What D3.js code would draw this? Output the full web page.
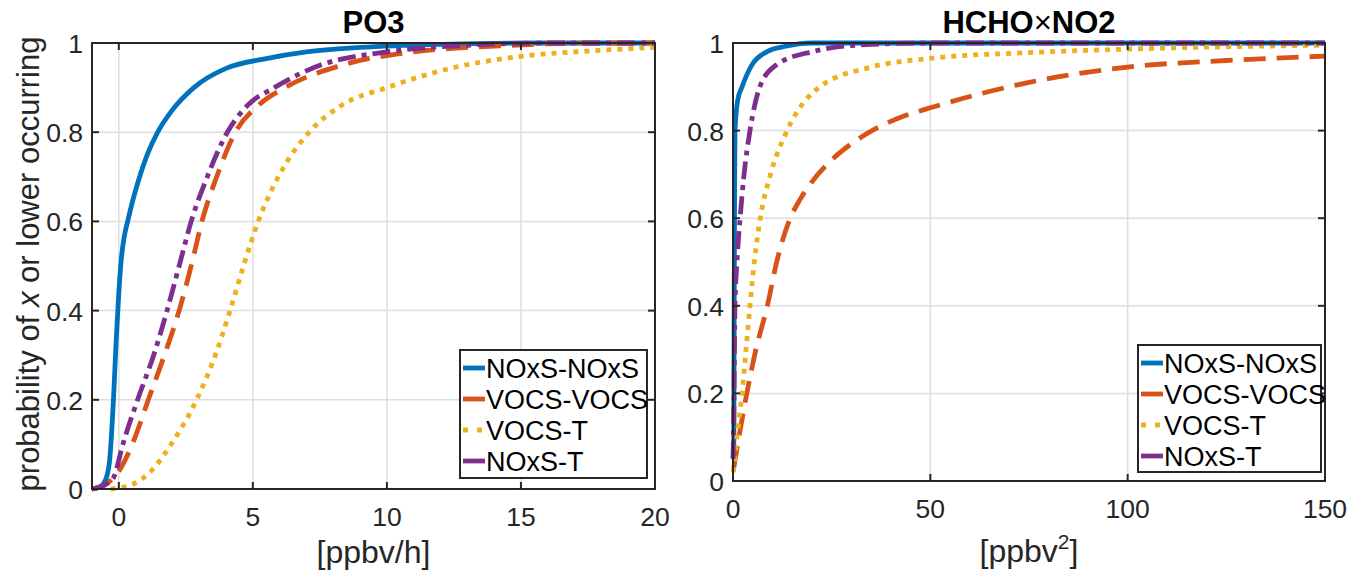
<!DOCTYPE html>
<html><head><meta charset="utf-8">
<script src="https://cdn.jsdelivr.net/npm/d3@7"></script>
<style>body{margin:0;background:#fff;} svg{font-family:"Liberation Sans",Arial,Helvetica,sans-serif;}</style>
</head><body>
<svg id="c" width="1364" height="577"></svg>
<script>
const seriesNames = ["NOxS-NOxS","VOCS-VOCS","VOCS-T","NOxS-T"];
const seriesColors = ["#0072BD","#D95319","#EDB120","#7E2F8E"];
const seriesDash = ["none","22,11","5,6","18,6,5,6"];

// Left panel: PO3 [ppbv/h]  — points [x, probability]
const po3_NOxS_NOxS = [[-1,0],[-0.7,0.005],[-0.5,0.02],[-0.35,0.06],[-0.2,0.2],[-0.1,0.33],[0,0.44],[0.1,0.52],[0.2,0.565],[0.33,0.6],[0.5,0.642],[0.75,0.695],[1.05,0.748],[1.45,0.8],[2.0,0.85],[2.8,0.9],[4.0,0.943],[5.5,0.965],[7,0.98],[9,0.99],[12,0.997],[16,1],[20,1]];
const po3_VOCS_VOCS = [[-1,0],[-0.5,0.01],[0,0.04],[0.5,0.1],[1.1,0.2],[1.7,0.3],[2.25,0.4],[2.7,0.5],[3.1,0.6],[3.65,0.7],[4.35,0.8],[5.2,0.86],[6.2,0.9],[8.3,0.95],[11,0.98],[14,0.993],[18,1],[20,1]];
const po3_VOCS_T = [[-0.3,0],[0.5,0.01],[1.2,0.04],[1.95,0.1],[2.9,0.2],[3.6,0.3],[4.15,0.4],[4.65,0.5],[5.2,0.6],[5.95,0.7],[7.1,0.8],[8.3,0.86],[10,0.9],[12.5,0.945],[15,0.97],[17.5,0.982],[20,0.99]];
const po3_NOxS_T = [[-1,0],[-0.5,0.01],[-0.2,0.025],[0.15,0.1],[0.7,0.2],[1.3,0.3],[1.8,0.4],[2.25,0.5],[2.7,0.6],[3.3,0.7],[4.05,0.8],[4.8,0.86],[5.8,0.9],[7.5,0.95],[10,0.98],[13,0.995],[16,1],[20,1]];

// Right panel: HCHO×NO2 [ppbv^2]
const hn_NOxS_NOxS = [[0.2,0.08],[0.3,0.4],[0.4,0.65],[0.5,0.8],[1.2,0.87],[2.3,0.9],[4.8,0.95],[8.6,0.98],[13,0.992],[20,1],[150,1]];
const hn_VOCS_VOCS = [[0.2,0.03],[1.5,0.1],[3.5,0.2],[5.8,0.3],[8.7,0.4],[11.2,0.505],[14.5,0.6],[17,0.643],[20,0.683],[25,0.733],[30,0.77],[36.5,0.806],[43,0.832],[50,0.852],[75,0.91],[100,0.945],[125,0.96],[150,0.97]];
const hn_VOCS_T = [[0.1,0.02],[1,0.1],[2.3,0.2],[3.3,0.3],[4.3,0.4],[5.4,0.5],[6.9,0.6],[9.5,0.7],[13.7,0.8],[22,0.9],[35,0.945],[50,0.965],[75,0.978],[100,0.986],[150,0.995]];
const hn_NOxS_T = [[0,0.05],[0.2,0.15],[0.5,0.4],[1.0,0.5],[1.8,0.6],[2.8,0.7],[4.3,0.8],[6.8,0.9],[11,0.95],[20,0.98],[35,0.997],[50,1],[150,1]];

const po3Series = [po3_NOxS_NOxS, po3_VOCS_VOCS, po3_VOCS_T, po3_NOxS_T];
const hnSeries = [hn_NOxS_NOxS, hn_VOCS_VOCS, hn_VOCS_T, hn_NOxS_T];
const drawOrder = [0,1,2,3];

const po3XTicks = [0,5,10,15,20];
const hnXTicks = [0,50,100,150];
const yTicks = [0,0.2,0.4,0.6,0.8,1];

const svg = d3.select("#c");
const ink = "#262626";

function panel(o){
  const g = svg.append("g");
  const x = d3.scaleLinear().domain(o.xdom).range([o.l, o.r]);
  const y = d3.scaleLinear().domain([0,1]).range([o.b, o.t]);
  g.selectAll(".gx").data(o.xticks).enter().append("line")
    .attr("x1",d=>x(d)).attr("x2",d=>x(d)).attr("y1",o.t).attr("y2",o.b)
    .attr("stroke","#dedede").attr("stroke-width",1.5);
  g.selectAll(".gy").data(yTicks).enter().append("line")
    .attr("y1",d=>y(d)).attr("y2",d=>y(d)).attr("x1",o.l).attr("x2",o.r)
    .attr("stroke","#dedede").attr("stroke-width",1.5);
  const line = d3.line().x(d=>x(d[0])).y(d=>y(d[1])).curve(d3.curveMonotoneX);
  drawOrder.forEach(i=>{
    g.append("path").datum(o.series[i]).attr("d",line).attr("fill","none")
      .attr("stroke",seriesColors[i]).attr("stroke-width",4.8)
      .attr("stroke-dasharray",seriesDash[i]).attr("stroke-linejoin","round");
  });
  g.append("rect").attr("x",o.l).attr("y",o.t).attr("width",o.r-o.l).attr("height",o.b-o.t)
    .attr("fill","none").attr("stroke",ink).attr("stroke-width",2);
  const tl = 7;
  o.xticks.forEach(d=>{
    g.append("line").attr("x1",x(d)).attr("x2",x(d)).attr("y1",o.b).attr("y2",o.b-tl).attr("stroke",ink).attr("stroke-width",2);
    g.append("line").attr("x1",x(d)).attr("x2",x(d)).attr("y1",o.t).attr("y2",o.t+tl).attr("stroke",ink).attr("stroke-width",2);
  });
  yTicks.forEach(d=>{
    g.append("line").attr("x1",o.l).attr("x2",o.l+tl).attr("y1",y(d)).attr("y2",y(d)).attr("stroke",ink).attr("stroke-width",2);
    g.append("line").attr("x1",o.r).attr("x2",o.r-tl).attr("y1",y(d)).attr("y2",y(d)).attr("stroke",ink).attr("stroke-width",2);
  });
  g.selectAll(".xl").data(o.xticks).enter().append("text")
    .attr("x",d=>x(d)).attr("y",o.b+37).attr("text-anchor","middle")
    .attr("font-size",26.5).attr("fill",ink).text(d=>d);
  g.selectAll(".yl").data(yTicks).enter().append("text")
    .attr("x",o.l-9).attr("y",d=>y(d)+10).attr("text-anchor","end")
    .attr("font-size",26.5).attr("fill",ink).text(d=>d3.format("~g")(d));
  const tt = g.append("text").attr("x",(o.l+o.r)/2).attr("y",o.t-10).attr("text-anchor","middle")
    .attr("font-size",31).attr("font-weight","bold").attr("fill","#000");
  o.title(tt);
  const xl = g.append("text").attr("x",(o.l+o.r)/2).attr("y",o.xly).attr("text-anchor","middle")
    .attr("font-size",32).attr("fill",ink);
  o.xlabel(xl);
  const L = o.leg;
  g.append("rect").attr("x",L.x).attr("y",L.y).attr("width",L.w).attr("height",L.h)
    .attr("fill","#fff").attr("stroke",ink).attr("stroke-width",2);
  seriesNames.forEach((n,i)=>{
    const yy = L.y + 18 + i*31;
    g.append("line").attr("x1",L.x+3).attr("x2",L.x+25).attr("y1",yy).attr("y2",yy)
      .attr("stroke",seriesColors[i]).attr("stroke-width",4.8)
      .attr("stroke-dasharray", i===2 ? "5,9" : "none");
    g.append("text").attr("x",L.x+26).attr("y",yy+10).attr("font-size",27).attr("fill","#000").text(n);
  });
}

panel({l:92,r:655,t:43,b:489,xdom:[-1,20],xticks:po3XTicks,series:po3Series,xly:563,
  title:t=>t.text("PO3"),
  xlabel:t=>t.text("[ppbv/h]"),
  leg:{x:460,y:350,w:187,h:128}});
panel({l:733,r:1325,t:43,b:481,xdom:[0,150],xticks:hnXTicks,series:hnSeries,xly:562,
  title:t=>{t.append("tspan").text("HCHO");t.append("tspan").attr("font-weight","normal").text("\u00d7");t.append("tspan").text("NO2");},
  xlabel:t=>{t.append("tspan").text("[ppbv");t.append("tspan").attr("font-size",21).attr("dy",-13).text("2");t.append("tspan").attr("dy",13).text("]");},
  leg:{x:1138,y:345,w:183,h:127}});

const yl = svg.append("text").attr("transform","translate(39,264) rotate(-90)")
  .attr("text-anchor","middle").attr("font-size",31).attr("fill",ink);
yl.append("tspan").text("probability of ");
yl.append("tspan").attr("font-style","italic").text("x");
yl.append("tspan").text(" or lower occurring");
</script>
</body></html>
